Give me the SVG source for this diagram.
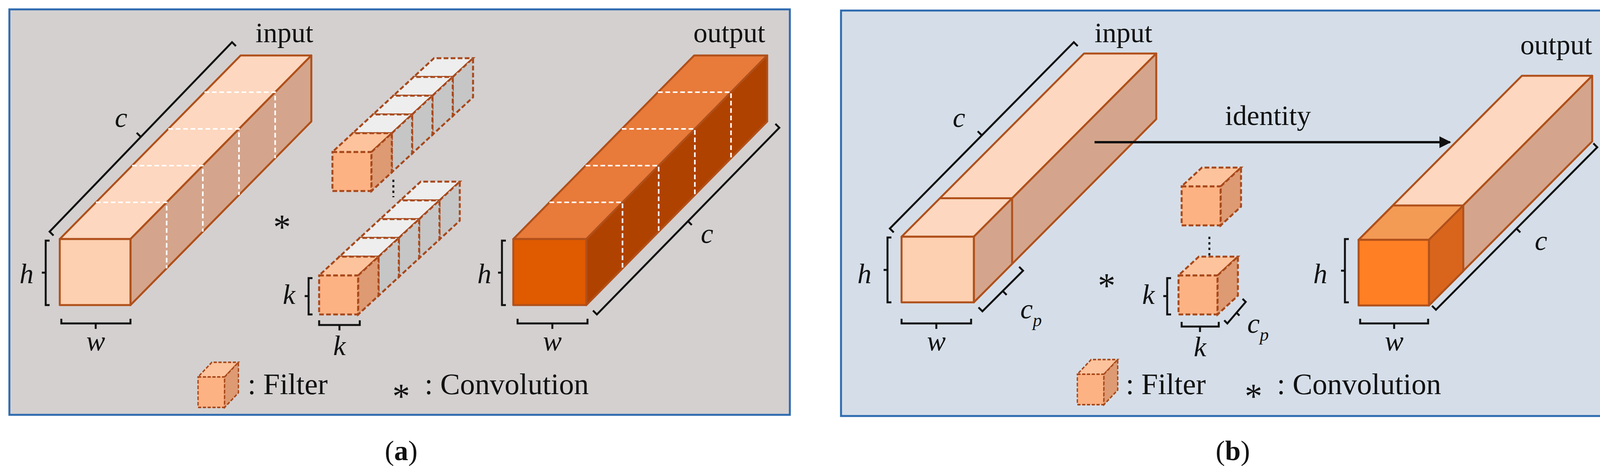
<svg xmlns="http://www.w3.org/2000/svg" width="4150" height="1193" viewBox="0 0 4150 1193">
<style>
text{font-family:"Liberation Serif",serif;fill:#111}
.t{font-size:72px}
.i{font-size:72px;font-style:italic}
.br{fill:none;stroke:#111;stroke-width:5}
.ed{stroke:#B0501A;stroke-width:5;stroke-linejoin:round}
.dsh{fill:none;stroke:#fff;stroke-width:4;stroke-dasharray:12 7}
.fd{stroke:#A8481A;stroke-width:5;stroke-dasharray:12 6}
</style>
<defs>
<g id="fc"><rect class="fd" x="0" y="0" width="100" height="100" fill="#FDB283"/><polygon class="fd" points="0,0 100,0 152,-48 52,-48" fill="#FDC39C"/><polygon class="fd" points="100,0 152,-48 152,52 100,100" fill="#DE9A72"/></g>
<g id="gc"><rect class="fd" x="0" y="0" width="100" height="100" fill="#DDDDDD"/><polygon class="fd" points="0,0 100,0 152,-48 52,-48" fill="#EEEEEE"/><polygon class="fd" points="100,0 152,-48 152,52 100,100" fill="#C6C6C6"/></g>
<marker id="ah" viewBox="0 0 10 10" refX="9" refY="5" markerWidth="5" markerHeight="5" orient="auto" markerUnits="strokeWidth"><path d="M0,0 L10,5 L0,10 z" fill="#111"/></marker>
</defs>
<rect x="24" y="24" width="1998" height="1038" fill="#D4D0D0" stroke="#2E6BB0" stroke-width="5"/>
<rect x="2153" y="27" width="1992" height="1038" fill="#D5DEE8" stroke="#2E6BB0" stroke-width="5"/>
<g id="input-a">
<polygon class="ed" points="153,612 334,612 797,142 616,142" fill="#FDD7BF"/>
<polygon class="ed" points="334,612 797,142 797,311 334,781" fill="#D4A58C"/>
<rect class="ed" x="153" y="612" width="181" height="169" fill="#FDD0B1"/>
<path class="dsh" d="M245.6,518 H426.6 V687 M338.2,424 H519.2 V593 M430.8,330 H611.8 V499 M523.4,236 H704.4 V405"/>
<text class="t" x="654" y="108">input</text>
</g>
<g id="output-a">
<polygon class="ed" points="1314,612 1501,612 1964,142 1777,142" fill="#E87A3A"/>
<polygon class="ed" points="1501,612 1964,142 1964,311 1501,781" fill="#B04200"/>
<rect class="ed" x="1314" y="612" width="187" height="169" fill="#E05A00"/>
<path class="dsh" d="M1406.6,518 H1593.6 V687 M1499.2,424 H1686.2 V593 M1591.8,330 H1778.8 V499 M1684.4,236 H1871.4 V405"/>
<text class="t" x="1775" y="108">output</text>
</g>
<g id="filters-a">
<use href="#gc" x="1059" y="197"/><use href="#gc" x="1007" y="245"/><use href="#gc" x="955" y="293"/><use href="#gc" x="903" y="341"/><use href="#fc" x="851" y="389"/>
<use href="#gc" x="1025" y="513"/><use href="#gc" x="973" y="561"/><use href="#gc" x="921" y="609"/><use href="#gc" x="869" y="657"/><use href="#fc" x="817" y="705"/>
<path d="M1007,460 V505" stroke="#111" stroke-width="5" stroke-dasharray="6 8"/>
</g>
<g id="labels-a">
<path class="br" d="M137,603 L127,593 L594,108 L604,118 M360,350 L350,340"/>
<path class="br" d="M1985,317 L1995,327 L1528,805 L1518,795 M1761,566 L1771,576"/>
<path class="br" d="M127,616 H117 V781 H127 M117,698 H107"/>
<path class="br" d="M1295,616 H1285 V781 H1295 M1285,698 H1275"/>
<path class="br" d="M157,816 V828 H334 V816 M245,828 V842"/>
<path class="br" d="M1325,816 V828 H1504 V816 M1414,828 V842"/>
<path class="br" d="M817,820 V832 H921 V820 M869,832 V846"/>
<path class="br" d="M800,712 H790 V805 H800 M790,758 H780"/>
<text class="i" x="310" y="325" text-anchor="middle">c</text>
<text class="i" x="1810" y="622" text-anchor="middle">c</text>
<text class="i" x="68" y="725" text-anchor="middle">h</text>
<text class="i" x="1240" y="725" text-anchor="middle">h</text>
<text class="i" x="245" y="897" text-anchor="middle">w</text>
<text class="i" x="1414" y="897" text-anchor="middle">w</text>
<text class="i" x="740" y="778" text-anchor="middle">k</text>
<text class="i" x="869" y="909" text-anchor="middle">k</text>
<text x="722" y="612" font-size="90" text-anchor="middle">*</text>
<use href="#fc" transform="translate(507,965) scale(0.68,0.78)"/>
<text x="634" y="1009" font-size="76">: Filter</text>
<text x="1027" y="1045" font-size="90" text-anchor="middle">*</text>
<text x="1087" y="1009" font-size="76">: Convolution</text>
<text class="t" x="1027" y="1178" text-anchor="middle">(<tspan font-weight="bold">a</tspan>)</text>
</g>
<g id="input-b">
<polygon class="ed" points="2308,606 2493,606 2960,137 2775,137" fill="#FDD7BF"/>
<polygon class="ed" points="2493,606 2960,137 2960,305 2493,774" fill="#D4A58C"/>
<rect class="ed" x="2308" y="606" width="185" height="168" fill="#FDD0B1"/>
<path class="ed" fill="none" d="M2406,507.5 H2591 V675.5"/>
<text class="t" x="2802" y="108">input</text>
</g>
<g id="output-b">
<polygon class="ed" points="3478,614 3658,614 4076,194 3896,194" fill="#FDD7BF"/>
<polygon class="ed" points="3658,614 4076,194 4076,362 3658,782" fill="#D4A58C"/>
<polygon class="ed" points="3478,614 3658,614 3746,526 3566,526" fill="#F39A55"/>
<polygon class="ed" points="3658,614 3746,526 3746,694 3658,782" fill="#D9651C"/>
<rect class="ed" x="3478" y="614" width="180" height="168" fill="#FF7F24"/>
<text class="t" x="3892" y="139">output</text>
</g>
<g id="filters-b">
<use href="#fc" x="3025" y="477"/>
<use href="#fc" x="3017" y="705"/>
<path d="M3096,606 V655" stroke="#111" stroke-width="5" stroke-dasharray="6 8"/>
</g>
<g id="connectors">
<line x1="2802" y1="364" x2="3712" y2="364" stroke="#111" stroke-width="6" marker-end="url(#ah)"/>
</g>
<g id="labels-b">
<text class="t" x="3136" y="320">identity</text>
<path class="br" d="M2288,595 L2278,585 L2749,108 L2759,118 M2513,346 L2503,336"/>
<path class="br" d="M2505,787 L2515,797 L2619,693 L2609,683 M2567,745 L2577,755"/>
<path class="br" d="M4079,367 L4089,377 L3676,793 L3666,783 M3882,585 L3892,595"/>
<path class="br" d="M3134,820 L3142,828 L3189,773 L3181,765 M3165,800 L3173,808"/>
<path class="br" d="M2282,608 H2272 V774 H2282 M2272,691 H2262"/>
<path class="br" d="M3453,612 H3443 V774 H3453 M3443,693 H3433"/>
<path class="br" d="M2308,816 V828 H2486 V816 M2397,828 V842"/>
<path class="br" d="M3482,816 V828 H3656 V816 M3569,828 V842"/>
<path class="br" d="M3025,824 V836 H3120 V824 M3072,836 V850"/>
<path class="br" d="M2998,712 H2988 V805 H2998 M2988,758 H2978"/>
<text class="i" x="2455" y="325" text-anchor="middle">c</text>
<text class="i" x="3945" y="640" text-anchor="middle">c</text>
<text class="i" x="2213" y="725" text-anchor="middle">h</text>
<text class="i" x="3380" y="725" text-anchor="middle">h</text>
<text class="i" x="2397" y="897" text-anchor="middle">w</text>
<text class="i" x="3569" y="897" text-anchor="middle">w</text>
<text class="i" x="2940" y="778" text-anchor="middle">k</text>
<text class="i" x="3072" y="912" text-anchor="middle">k</text>
<text class="i" x="2612" y="815">c<tspan font-size="46" dy="20">p</tspan></text>
<text class="i" x="3193" y="852">c<tspan font-size="46" dy="20">p</tspan></text>
<text x="2833" y="762" font-size="90" text-anchor="middle">*</text>
<use href="#fc" transform="translate(2758,958) scale(0.68,0.78)"/>
<text x="2882" y="1009" font-size="76">: Filter</text>
<text x="3209" y="1045" font-size="90" text-anchor="middle">*</text>
<text x="3269" y="1009" font-size="76">: Convolution</text>
<text class="t" x="3156" y="1178" text-anchor="middle">(<tspan font-weight="bold">b</tspan>)</text>
</g>
</svg>
